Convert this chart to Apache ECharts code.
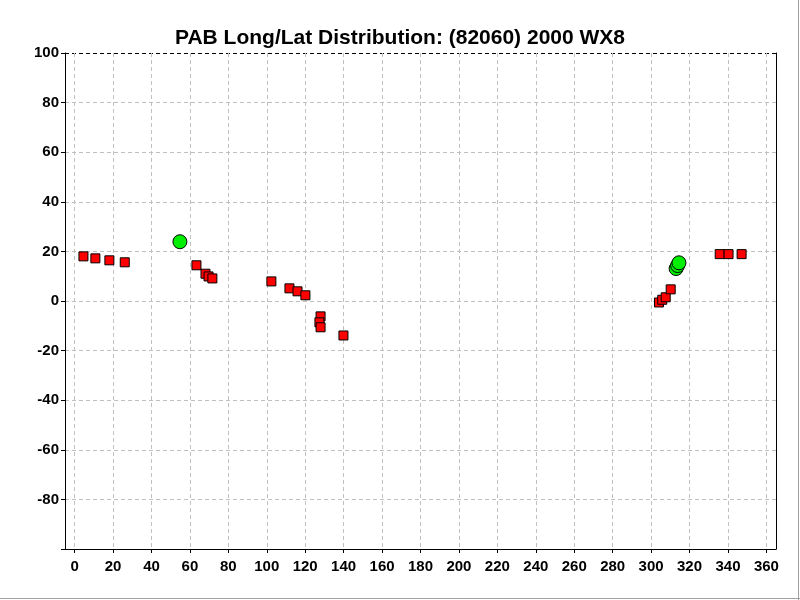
<!DOCTYPE html>
<html><head><meta charset="utf-8">
<script src="https://cdn.jsdelivr.net/npm/echarts@6/dist/echarts.min.js"></script>
<style>html,body{margin:0;padding:0;background:#fff}#c{width:800px;height:600px}</style>
</head><body><div id="c"></div>
<script>
const titleText = 'PAB Long/Lat Distribution: (82060) 2000 WX8';
const xTicks = [0,20,40,60,80,100,120,140,160,180,200,220,240,260,280,300,320,340,360];
const yTicks = [-100,-80,-60,-40,-20,0,20,40,60,80,100];
const redLong = [4.6,10.8,18.1,26.1,63.4,68.1,69.7,71.7,102.4,111.8,116.0,120.1,128.0,127.4,128.0,139.9,304.1,305.8,307.6,310.2,335.7,340.3,347.1];
const redLat  = [18.0,17.2,16.4,15.6,14.4,11.0,9.9,9.1,7.9,5.1,3.9,2.3,-6.2,-8.6,-10.6,-13.9,-0.6,0.5,1.5,4.7,18.9,18.9,18.9];
const greenLong = [54.8,313.0,313.8,314.5];
const greenLat  = [23.9,13.1,14.3,15.4];

const red = redLong.map((v,i)=>[v,redLat[i]]);
const green = greenLong.map((v,i)=>[v,greenLat[i]]);
const font = 'Liberation Sans, Arial, sans-serif';
const ySplitColors = yTicks.map(v => v === 100 ? '#000' : '#c0c0c0');

const chart = echarts.init(document.getElementById('c'));
chart.setOption({
  animation: false,
  backgroundColor: '#fff',
  title: {text: titleText, left: 'center', top: 23,
    textStyle: {fontFamily: font, fontWeight: 'bold', fontSize: 21, color: '#000'}},
  grid: {left: 65, right: 24, top: 53, bottom: 51},
  xAxis: {type: 'value', min: -5, max: 365,
    axisLine: {show: true, onZero: false, lineStyle: {color: '#000', width: 1}},
    axisTick: {show: true, length: 4, customValues: xTicks, lineStyle: {color: '#000'}},
    axisLabel: {customValues: xTicks, color: '#000', fontFamily: font, fontWeight: 'bold', fontSize: 15, margin: 10},
    splitLine: {show: true, lineStyle: {color: '#c0c0c0', type: [4,3]}}},
  yAxis: [{type: 'value', min: -100, max: 100, interval: 20,
    axisLine: {show: true, onZero: false, lineStyle: {color: '#000', width: 1}},
    axisTick: {show: true, length: 4, lineStyle: {color: '#000'}},
    axisLabel: {color: '#000', fontFamily: font, fontWeight: 'bold', fontSize: 15, margin: 6,
      formatter: v => v === -100 ? '' : String(v)},
    splitLine: {show: true, lineStyle: {color: ySplitColors, type: [4,3]}}},
    {type: 'value', position: 'right', min: -100, max: 100, interval: 20,
    axisLine: {show: true, onZero: false, lineStyle: {color: '#000', width: 1}},
    axisTick: {show: false}, axisLabel: {show: false}, splitLine: {show: false}}],
  series: [
    {type: 'scatter', data: red, symbol: 'rect', symbolSize: 9,
      itemStyle: {color: '#ff0000', borderColor: '#000', borderWidth: 1, opacity: 1}},
    {type: 'scatter', data: green, symbol: 'circle', symbolSize: 14,
      itemStyle: {color: '#00ee00', borderColor: '#000', borderWidth: 1, opacity: 1}}
  ],
  graphic: [
    {type: 'line', shape: {x1: 798.5, y1: 0, x2: 798.5, y2: 600}, style: {stroke: '#a0a0a0', lineWidth: 1}},
    {type: 'line', shape: {x1: 0, y1: 598.5, x2: 800, y2: 598.5}, style: {stroke: '#a0a0a0', lineWidth: 1}}
  ]
});
</script></body></html>
